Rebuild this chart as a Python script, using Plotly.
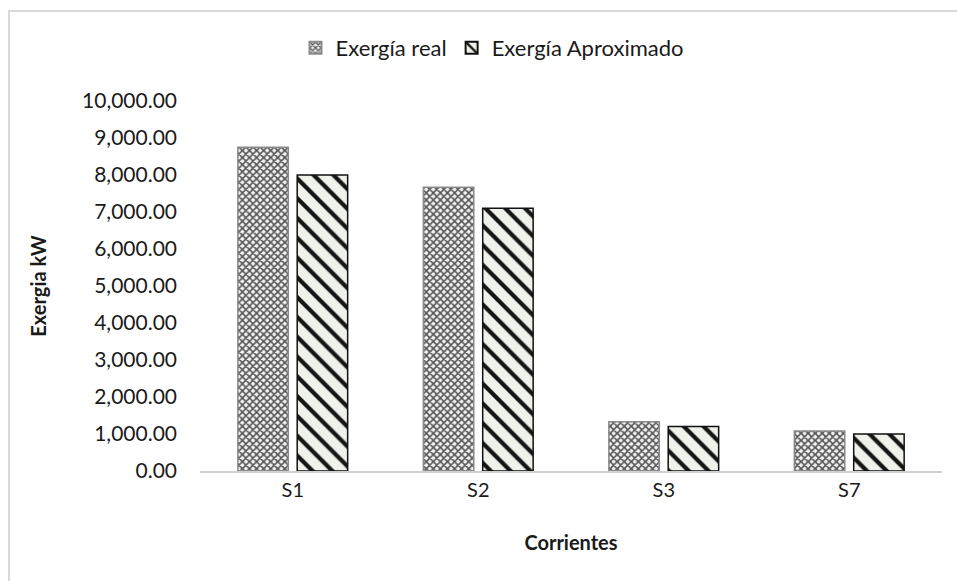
import plotly.graph_objects as go

# Exergy per stream (kW)
corrientes = ["S1", "S2", "S3", "S7"]
exergia_real = [8750, 7670, 1330, 1080]
exergia_aprox = [8000, 7100, 1200, 1000]
y_ticks = [0, 1000, 2000, 3000, 4000, 5000, 6000, 7000, 8000, 9000, 10000]

FONT = "Lato"

fig = go.Figure()
fig.add_trace(go.Bar(
    name="Exergía real",
    x=corrientes,
    y=exergia_real,
    marker=dict(
        color="#e6e6e6",
        line=dict(color="#8a8a8a", width=1.5),
        pattern=dict(shape="x", size=5, solidity=0.55,
                     fgcolor="#555555", fgopacity=1, bgcolor="#f2f2f2"),
    ),
))
fig.add_trace(go.Bar(
    name="Exergía Aproximado",
    x=corrientes,
    y=exergia_aprox,
    marker=dict(
        color="#dfe6da",
        line=dict(color="#111111", width=1.5),
        pattern=dict(shape="\\", size=14, solidity=0.3,
                     fgcolor="#151515", fgopacity=1, bgcolor="#eef2ea"),
    ),
))

W, H = 957, 581
ml, mr, mt, mb = 200, 15, 101, 110
pw, ph = W - ml - mr, H - mt - mb

fig.update_layout(
    width=W, height=H,
    margin=dict(l=ml, r=mr, t=mt, b=mb),
    paper_bgcolor="white",
    plot_bgcolor="white",
    barmode="group",
    bargap=0.36,
    bargroupgap=0.15,
    font=dict(family=FONT, size=21, color="#1a1a1a"),
    showlegend=True,
    legend=dict(
        orientation="h",
        x=(492 - ml) / pw, xanchor="center",
        y=(471 - 48) / ph, yanchor="middle",
        font=dict(family=FONT, size=22, color="#1a1a1a"),
        itemsizing="constant",
        itemwidth=30,
        traceorder="normal",
    ),
    xaxis=dict(
        title=dict(text="<b>Corrientes</b>", font=dict(size=20), standoff=36),
        showline=True, linecolor="#d0d0d0", linewidth=2,
        ticks="", showgrid=False, zeroline=False,
        tickfont=dict(size=20),
    ),
    yaxis=dict(
        title=dict(text="<b>Exergia kW</b>", font=dict(size=20), standoff=30),
        range=[0, 10000],
        tickvals=y_ticks,
        tickformat=",.2f",
        showgrid=False, zeroline=False, showline=False, ticks="",
        ticklabelstandoff=22,
        tickfont=dict(size=21),
    ),
    shapes=[dict(
        type="rect", xref="paper", yref="paper",
        x0=(9 - ml) / pw, x1=1.2,
        y0=-0.6, y1=(471 - 11) / ph,
        line=dict(color="#d9d9d9", width=2),
        fillcolor="rgba(0,0,0,0)",
        layer="below",
    )],
)

fig.write_html("out.html")
